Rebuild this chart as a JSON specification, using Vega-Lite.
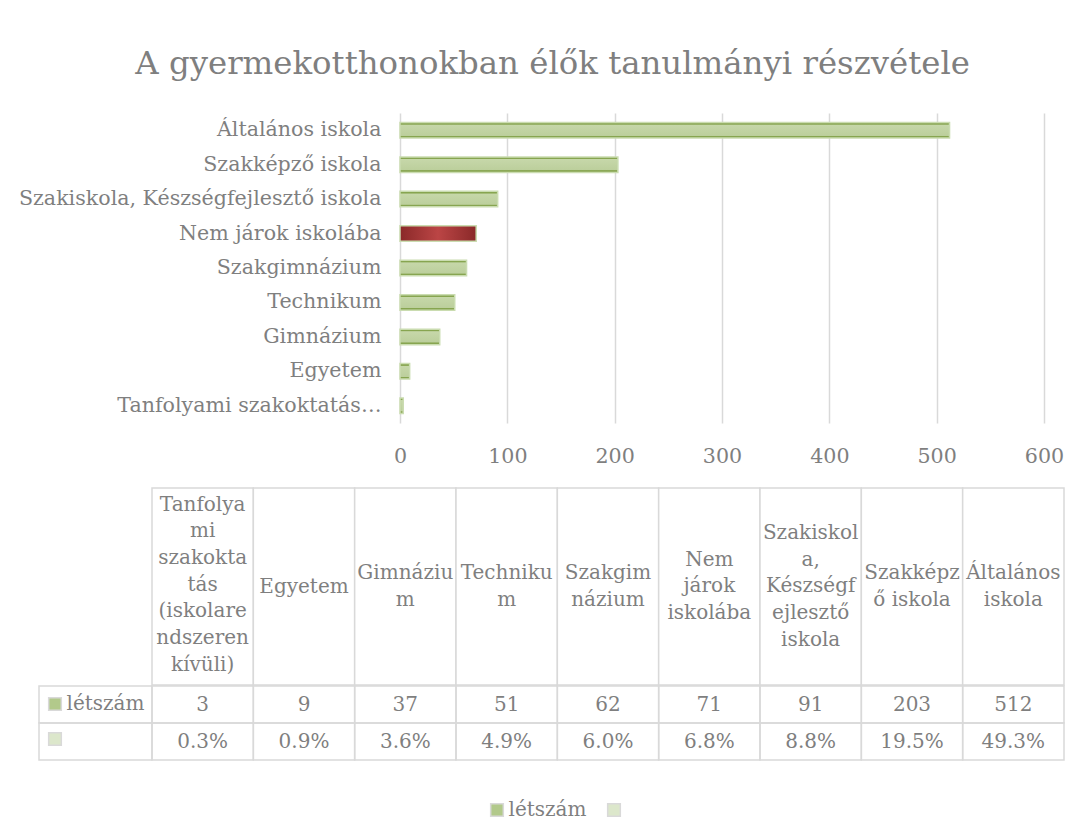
{
  "$schema": "https://vega.github.io/schema/vega-lite/v6.json",
  "autosize": {"type": "pad"},
  "padding": {"left": 18, "top": 47, "right": 12, "bottom": 12},
  "background": "white",
  "title": {"text": "A gyermekotthonokban élők tanulmányi részvétele", "font": "DejaVu Serif", "fontSize": 32.4, "fontWeight": "normal", "color": "#7f7f7f", "anchor": "middle", "offset": 33, "dx": 11},
  "config": {
    "view": {"stroke": null},
    "text": {"font": "DejaVu Serif", "fontSize": 20, "color": "#7f7f7f"},
    "axis": {"labelFont": "DejaVu Serif", "labelFontSize": 20, "labelColor": "#7f7f7f"},
    "legend": {"labelFont": "DejaVu Serif", "labelFontSize": 20, "labelColor": "#7f7f7f"}
  },
  "datasets": {
    "schools": [
      {"cat": "Tanfolyami szakoktatás (iskolarendszeren kívüli)", "header": "Tanfolya\nmi\nszakokta\ntás\n(iskolare\nndszeren\nkívüli)", "létszám": 3, "arány": 0.003},
      {"cat": "Egyetem", "header": "Egyetem", "létszám": 9, "arány": 0.009},
      {"cat": "Gimnázium", "header": "Gimnáziu\nm", "létszám": 37, "arány": 0.036},
      {"cat": "Technikum", "header": "Techniku\nm", "létszám": 51, "arány": 0.049},
      {"cat": "Szakgimnázium", "header": "Szakgim\nnázium", "létszám": 62, "arány": 0.06},
      {"cat": "Nem járok iskolába", "header": "Nem\njárok\niskolába", "létszám": 71, "arány": 0.068},
      {"cat": "Szakiskola, Készségfejlesztő iskola", "header": "Szakiskol\na,\nKészségf\nejlesztő\niskola", "létszám": 91, "arány": 0.088},
      {"cat": "Szakképző iskola", "header": "Szakképz\nő iskola", "létszám": 203, "arány": 0.195},
      {"cat": "Általános iskola", "header": "Általános\niskola", "létszám": 512, "arány": 0.493}
    ]
  },
  "spacing": 20,
  "vconcat": [
    {
      "bounds": "flush",
      "spacing": 0,
      "hconcat": [
        {"width": 361, "height": 310, "data": {"values": [{}]}, "mark": {"type": "text", "text": ""}},
        {
          "width": 644,
          "height": 310,
          "data": {"name": "schools"},
          "mark": {"type": "bar", "stroke": "#cadcb0", "strokeWidth": 1.5},
          "encoding": {
            "y": {
              "field": "cat", "type": "nominal", "sort": "-x",
              "scale": {"paddingInner": 0.55, "paddingOuter": 0.275},
              "axis": {"title": null, "ticks": false, "domain": false, "labelPadding": 19, "labelLimit": 450, "labelFontSize": 20.6,
                "labelExpr": "datum.value === 'Tanfolyami szakoktatás (iskolarendszeren kívüli)' ? 'Tanfolyami szakoktatás…' : datum.label"}
            },
            "x": {
              "field": "létszám", "type": "quantitative",
              "scale": {"domain": [0, 600], "nice": false},
              "axis": {"title": null, "values": [0, 100, 200, 300, 400, 500, 600], "grid": true, "gridColor": "#d9d9d9", "gridWidth": 1.5, "ticks": false, "domain": false, "labelPadding": 23, "labelFlush": false, "labelFontSize": 20.6}
            },
            "fill": {
              "condition": {"test": "datum.cat === 'Nem járok iskolába'",
                "value": {"gradient": "linear", "x1": 0, "y1": 0, "x2": 1, "y2": 0, "stops": [{"offset": 0, "color": "#8a2929"}, {"offset": 0.5, "color": "#bb4545"}, {"offset": 1, "color": "#8a2929"}]}},
              "value": {"gradient": "linear", "x1": 0, "y1": 0, "x2": 0, "y2": 1, "stops": [{"offset": 0, "color": "#87a550"}, {"offset": 0.12, "color": "#87a550"}, {"offset": 0.16, "color": "#c6d7a9"}, {"offset": 0.84, "color": "#bccf9c"}, {"offset": 0.88, "color": "#87a550"}, {"offset": 1, "color": "#87a550"}]}
            }
          }
        }
      ]
    },
    {
      "spacing": -3,
      "vconcat": [
        {
          "bounds": "flush",
          "spacing": 0,
          "hconcat": [
            {"width": 113, "height": 197, "data": {"values": [{}]}, "mark": {"type": "text", "text": ""}},
            {
              "width": 912,
              "height": 197,
              "data": {"name": "schools"},
              "encoding": {
                "x": {"field": "cat", "type": "nominal", "scale": {"domain": ["Tanfolyami szakoktatás (iskolarendszeren kívüli)", "Egyetem", "Gimnázium", "Technikum", "Szakgimnázium", "Nem járok iskolába", "Szakiskola, Készségfejlesztő iskola", "Szakképző iskola", "Általános iskola"], "paddingInner": 0, "paddingOuter": 0}, "axis": null}
              },
              "layer": [
                {"mark": {"type": "rect", "fill": "white", "stroke": "#d9d9d9", "strokeWidth": 1.5}},
                {
                  "transform": [{"filter": "length(split(datum.header, '\\n')) === 1"}],
                  "mark": {"type": "text", "lineBreak": "\n", "lineHeight": 26.7, "baseline": "middle", "align": "center", "dy": 0},
                  "encoding": {"text": {"field": "header"}}
                },
                {
                  "transform": [{"filter": "length(split(datum.header, '\\n')) === 2"}],
                  "mark": {"type": "text", "lineBreak": "\n", "lineHeight": 26.7, "baseline": "middle", "align": "center", "dy": -13.35},
                  "encoding": {"text": {"field": "header"}}
                },
                {
                  "transform": [{"filter": "length(split(datum.header, '\\n')) === 3"}],
                  "mark": {"type": "text", "lineBreak": "\n", "lineHeight": 26.7, "baseline": "middle", "align": "center", "dy": -26.7},
                  "encoding": {"text": {"field": "header"}}
                },
                {
                  "transform": [{"filter": "length(split(datum.header, '\\n')) === 5"}],
                  "mark": {"type": "text", "lineBreak": "\n", "lineHeight": 26.7, "baseline": "middle", "align": "center", "dy": -53.4},
                  "encoding": {"text": {"field": "header"}}
                },
                {
                  "transform": [{"filter": "length(split(datum.header, '\\n')) === 7"}],
                  "mark": {"type": "text", "lineBreak": "\n", "lineHeight": 26.7, "baseline": "middle", "align": "center", "dy": -82},
                  "encoding": {"text": {"field": "header"}}
                }
              ]
            }
          ]
        },
        {
          "bounds": "flush",
          "spacing": 0,
          "hconcat": [
            {
              "width": 113,
              "height": 74,
              "data": {"name": "schools"},
              "transform": [
                {"fold": ["létszám", "arány"], "as": ["series", "value"]},
                {"aggregate": [{"op": "count", "as": "k"}], "groupby": ["series"]}
              ],
              "mark": {"type": "rect", "fillOpacity": 0, "stroke": "#d9d9d9", "strokeWidth": 1.5},
              "encoding": {
                "y": {"field": "series", "type": "nominal", "scale": {"domain": ["létszám", "arány"], "paddingInner": 0, "paddingOuter": 0}, "axis": null},
                "fill": {
                  "field": "series", "type": "nominal", "sort": "descending",
                  "scale": {"range": ["#b2c98b", "#dce7cb"]},
                  "legend": {
                    "orient": "none", "legendX": 6, "legendY": 581, "direction": "vertical", "title": null, "padding": 0,
                    "symbolType": "square", "symbolSize": 160, "symbolStrokeWidth": 1.5, "symbolOpacity": 1,
                    "rowPadding": 15, "labelOffset": 1.5,
                    "labelExpr": "datum.value === 'arány' ? '' : datum.label",
                    "encode": {"symbols": {"update": {"fillOpacity": {"value": 1}, "stroke": {"signal": "datum.value === 'létszám' ? '#86a44e' : '#c6d8a6'"}}}}
                  }
                }
              }
            },
            {
              "width": 912,
              "height": 74,
              "data": {"name": "schools"},
              "transform": [{"fold": ["létszám", "arány"], "as": ["series", "value"]}],
              "encoding": {
                "x": {"field": "cat", "type": "nominal", "scale": {"domain": ["Tanfolyami szakoktatás (iskolarendszeren kívüli)", "Egyetem", "Gimnázium", "Technikum", "Szakgimnázium", "Nem járok iskolába", "Szakiskola, Készségfejlesztő iskola", "Szakképző iskola", "Általános iskola"], "paddingInner": 0, "paddingOuter": 0}, "axis": null},
                "y": {"field": "series", "type": "nominal", "scale": {"domain": ["létszám", "arány"], "paddingInner": 0, "paddingOuter": 0}, "axis": null}
              },
              "layer": [
                {
                  "mark": {"type": "rect", "fillOpacity": 0, "stroke": "#d9d9d9", "strokeWidth": 1.5},
                  "encoding": {
                    "color": {
                      "field": "series", "type": "nominal", "sort": "descending",
                      "scale": {"range": ["#b2c98b", "#dce7cb"]},
                      "legend": {
                        "orient": "none", "legendX": 448, "legendY": 687, "direction": "horizontal", "title": null, "padding": 0,
                        "symbolType": "square", "symbolSize": 160, "symbolStrokeWidth": 1.5, "symbolOpacity": 1,
                        "columnPadding": 17, "labelOffset": 1.5,
                        "labelExpr": "datum.value === 'arány' ? '' : datum.label",
                        "encode": {"symbols": {"update": {"fillOpacity": {"value": 1}, "stroke": {"signal": "datum.value === 'létszám' ? '#86a44e' : '#c6d8a6'"}}}}
                      }
                    }
                  }
                },
                {
                  "transform": [{"filter": "datum.series === 'létszám'"}],
                  "mark": {"type": "text", "baseline": "middle"},
                  "encoding": {"text": {"field": "value", "type": "quantitative", "format": "d"}}
                },
                {
                  "transform": [{"filter": "datum.series === 'arány'"}],
                  "mark": {"type": "text", "baseline": "middle"},
                  "encoding": {"text": {"field": "value", "type": "quantitative", "format": ".1%"}}
                }
              ]
            }
          ]
        }
      ]
    }
  ]
}
